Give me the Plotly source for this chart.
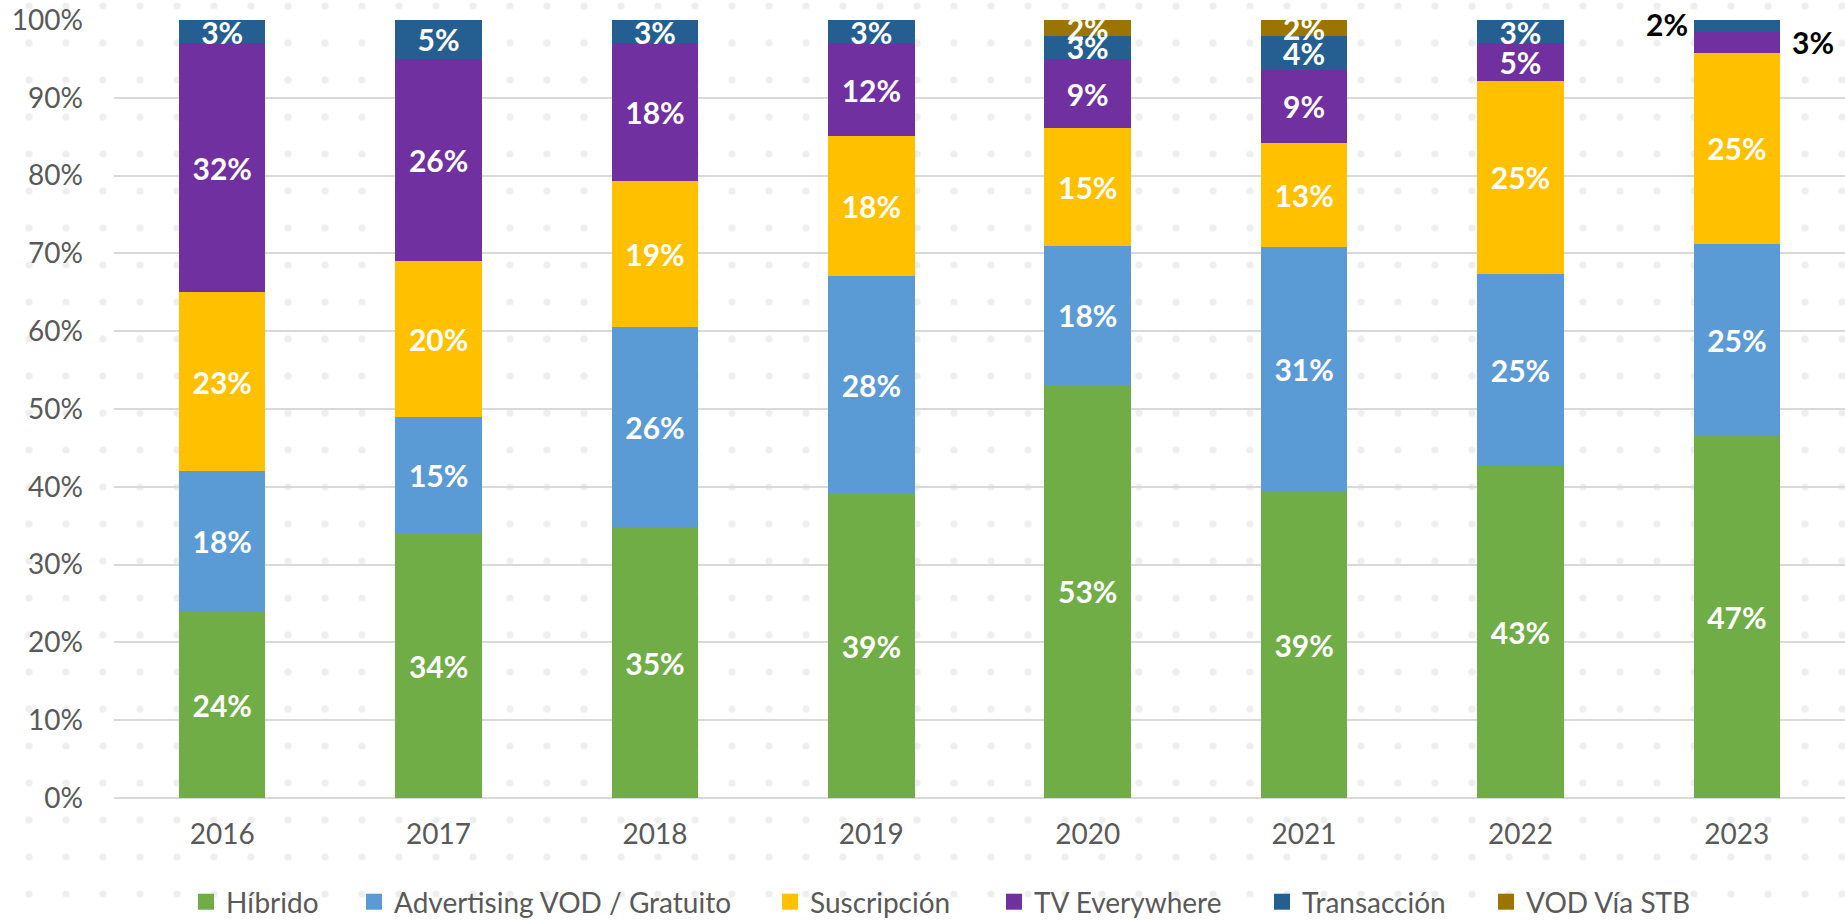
import base64
import plotly.graph_objects as go

years = ["2016", "2017", "2018", "2019", "2020", "2021", "2022", "2023"]

hibrido = [24.0, 34.0, 34.8, 39.1, 53.1, 39.4, 42.7, 46.6]
advertising = [18.0, 15.0, 25.7, 28.0, 17.9, 31.4, 24.7, 24.6]
suscripcion = [23.0, 20.0, 18.8, 18.0, 15.1, 13.4, 24.8, 24.6]
tv_everywhere = [32.0, 26.0, 17.7, 11.9, 8.9, 9.4, 4.8, 2.7]
transaccion = [3.0, 5.0, 3.0, 3.0, 3.0, 4.4, 3.0, 1.5]
vod_stb = [0.0, 0.0, 0.0, 0.0, 2.0, 2.0, 0.0, 0.0]

series_names = ["Híbrido", "Advertising VOD / Gratuito", "Suscripción",
                "TV Everywhere", "Transacción", "VOD Vía STB"]
series_values = [hibrido, advertising, suscripcion, tv_everywhere, transaccion, vod_stb]
series_colors = ["#70AD47", "#5B9BD5", "#FFC000", "#7030A0", "#255E91", "#9C7500"]

# labels shown outside the 2023 bar (segments too thin)
outside_year = "2023"
outside_series = {"Transacción": "left", "TV Everywhere": "right"}

W, H = 1845, 923
ML, MR, MT, MB = 114, 0, 20, 125
PW, PH = W - ML - MR, H - MT - MB

FONT = "Lato"
GREY = "#595959"
TSIZE = 28
LSIZE = 30

# legend swatch centres (pixels) — layout only
legend_px = [206, 374, 790, 1014, 1282, 1506]
legend_y_px = 902

fig = go.Figure()
for name, vals, col in zip(series_names, series_values, series_colors):
    texts = []
    for yr, v in zip(years, vals):
        if v <= 0 or (yr == outside_year and name in outside_series):
            texts.append("")
        else:
            texts.append(f"{v:.0f}%")
    fig.add_trace(go.Bar(
        name=name, x=years, y=vals, marker=dict(color=col, line=dict(width=0)),
        text=texts, textposition="inside", insidetextanchor="middle", textangle=0,
        textfont=dict(family=FONT, size=LSIZE, color="white", weight="bold"),
        hoverinfo="skip", showlegend=False,
    ))

# legend entries (square swatches), each in its own legend box
legend_layout = {}
for i, (name, col, px) in enumerate(zip(series_names, series_colors, legend_px)):
    key = "legend" if i == 0 else f"legend{i + 1}"
    fig.add_trace(go.Scatter(
        name=name, x=[None], y=[None], mode="markers",
        marker=dict(symbol="square", size=18, color=col),
        showlegend=True, legend=key, hoverinfo="skip",
    ))
    legend_layout[key] = dict(
        x=(px - 20 - ML) / PW, xanchor="left",
        y=(MT + PH - legend_y_px) / PH, yanchor="middle",
        orientation="h", bgcolor="rgba(0,0,0,0)", borderwidth=0,
        font=dict(family=FONT, size=TSIZE, color=GREY), itemclick=False,
        itemdoubleclick=False,
    )

# outside labels for 2023
annotations = []
idx = years.index(outside_year)
cum = 0.0
for name, vals in zip(series_names, series_values):
    v = vals[idx]
    if name in outside_series and v > 0:
        side = outside_series[name]
        annotations.append(dict(
            x=idx, y=cum + v / 2, xref="x", yref="y",
            text=f"<b>{v:.0f}%</b>", showarrow=False,
            xanchor="right" if side == "left" else "left",
            xshift=-47 if side == "left" else 53,
            yshift=2 if side == "left" else 0,
            font=dict(family=FONT, size=LSIZE, color="black"),
        ))
    cum += v

# dotted background pattern (decoration)
svg = (
    f'<svg xmlns="http://www.w3.org/2000/svg" width="{W}" height="{H}">'
    '<defs><pattern id="p" x="10.5" y="24.5" width="37" height="37" patternUnits="userSpaceOnUse">'
    '<circle cx="18.5" cy="18.5" r="3.6" fill="#EEEEEE"/></pattern></defs>'
    f'<rect width="{W}" height="{H}" fill="url(#p)"/></svg>'
)
src = "data:image/svg+xml;base64," + base64.b64encode(svg.encode()).decode()

fig.update_layout(
    width=W, height=H,
    barmode="stack", bargap=0.6,
    margin=dict(l=ML, r=MR, t=MT, b=MB, pad=0, autoexpand=False),
    paper_bgcolor="white", plot_bgcolor="rgba(0,0,0,0)",
    font=dict(family=FONT, size=TSIZE, color=GREY),
    uniformtext=dict(minsize=LSIZE, mode="show"),
    showlegend=True,
    annotations=annotations,
    images=[dict(source=src, xref="paper", yref="paper",
                 x=-ML / PW, y=1 + MT / PH, sizex=W / PW, sizey=H / PH,
                 xanchor="left", yanchor="top", sizing="stretch", layer="below")],
    **legend_layout,
)
fig.update_xaxes(type="category", range=[-0.5, len(years) - 0.5], automargin=False,
                 showgrid=False, showline=False, ticks="",
                 tickfont=dict(family=FONT, size=TSIZE, color=GREY), ticklabelstandoff=17)
fig.update_yaxes(range=[0, 100], tickvals=[0, 10, 20, 30, 40, 50, 60, 70, 80, 90, 100],
                 ticktext=[f"{t}%" for t in range(0, 101, 10)], automargin=False,
                 showgrid=True, gridcolor="#D9D9D9", gridwidth=1.5,
                 zeroline=True, zerolinecolor="#D9D9D9", zerolinewidth=1.5,
                 showline=False, ticks="", ticklabelstandoff=30,
                 tickfont=dict(family=FONT, size=TSIZE, color=GREY))

fig.write_html("out.html", config={"displayModeBar": False, "staticPlot": False},
               post_script="document.body.style.margin='0';document.body.style.overflow='hidden';")
